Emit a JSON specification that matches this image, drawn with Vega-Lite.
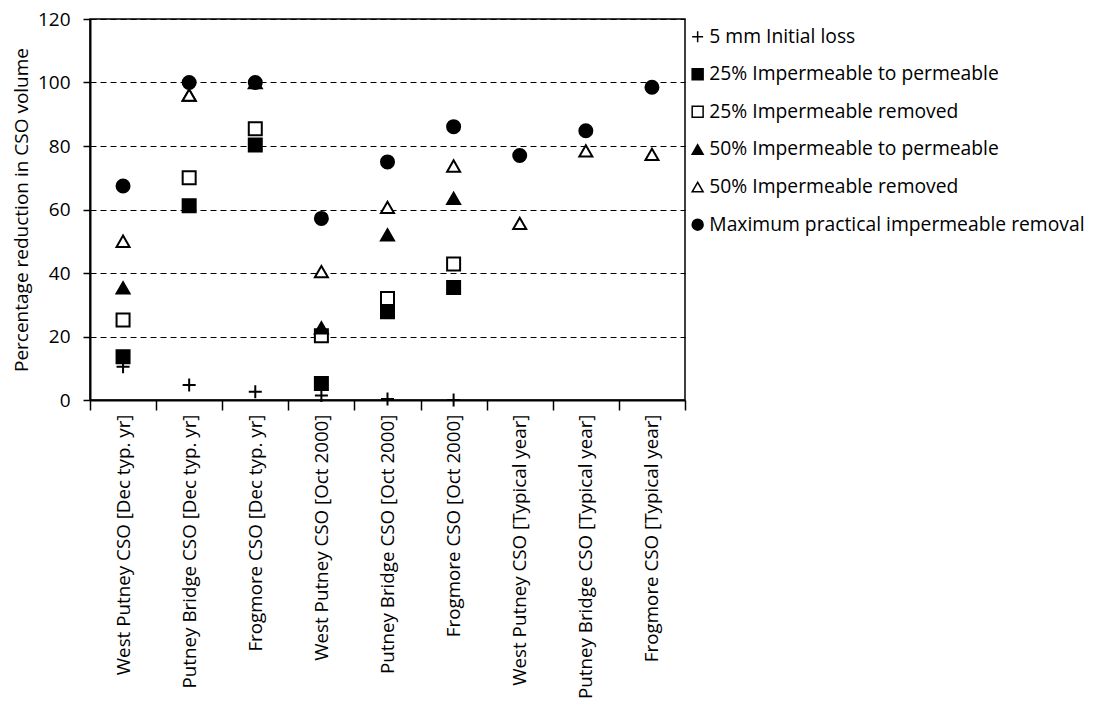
{
  "$schema": "https://vega.github.io/schema/vega-lite/v6.json",
  "width": 595,
  "height": 381,
  "autosize": {"type": "none"},
  "padding": {"left": 90, "top": 19, "right": 411, "bottom": 303},
  "background": "white",
  "config": {
    "view": {"stroke": "black", "strokeWidth": 1.5},
    "font": "Open Sans"
  },
  "data": {
    "values": [
      {"site": "West Putney CSO [Dec typ. yr]", "scenario": "5 mm Initial loss", "value": 10.5},
      {"site": "Putney Bridge CSO [Dec typ. yr]", "scenario": "5 mm Initial loss", "value": 4.7},
      {"site": "Frogmore CSO [Dec typ. yr]", "scenario": "5 mm Initial loss", "value": 2.6},
      {"site": "West Putney CSO [Oct 2000]", "scenario": "5 mm Initial loss", "value": 1.4},
      {"site": "Putney Bridge CSO [Oct 2000]", "scenario": "5 mm Initial loss", "value": 0.3},
      {"site": "Frogmore CSO [Oct 2000]", "scenario": "5 mm Initial loss", "value": 0},
      {"site": "West Putney CSO [Dec typ. yr]", "scenario": "25% Impermeable to permeable", "value": 13.6},
      {"site": "Putney Bridge CSO [Dec typ. yr]", "scenario": "25% Impermeable to permeable", "value": 61.2},
      {"site": "Frogmore CSO [Dec typ. yr]", "scenario": "25% Impermeable to permeable", "value": 80.3},
      {"site": "West Putney CSO [Oct 2000]", "scenario": "25% Impermeable to permeable", "value": 5.2},
      {"site": "Putney Bridge CSO [Oct 2000]", "scenario": "25% Impermeable to permeable", "value": 27.8},
      {"site": "Frogmore CSO [Oct 2000]", "scenario": "25% Impermeable to permeable", "value": 35.4},
      {"site": "West Putney CSO [Dec typ. yr]", "scenario": "25% Impermeable removed", "value": 25.2},
      {"site": "Putney Bridge CSO [Dec typ. yr]", "scenario": "25% Impermeable removed", "value": 70},
      {"site": "Frogmore CSO [Dec typ. yr]", "scenario": "25% Impermeable removed", "value": 85.4},
      {"site": "West Putney CSO [Oct 2000]", "scenario": "25% Impermeable removed", "value": 20.2},
      {"site": "Putney Bridge CSO [Oct 2000]", "scenario": "25% Impermeable removed", "value": 32},
      {"site": "Frogmore CSO [Oct 2000]", "scenario": "25% Impermeable removed", "value": 42.8},
      {"site": "West Putney CSO [Dec typ. yr]", "scenario": "50% Impermeable to permeable", "value": 35.3},
      {"site": "Putney Bridge CSO [Dec typ. yr]", "scenario": "50% Impermeable to permeable", "value": 96},
      {"site": "Frogmore CSO [Dec typ. yr]", "scenario": "50% Impermeable to permeable", "value": 100},
      {"site": "West Putney CSO [Oct 2000]", "scenario": "50% Impermeable to permeable", "value": 22.7},
      {"site": "Putney Bridge CSO [Oct 2000]", "scenario": "50% Impermeable to permeable", "value": 52},
      {"site": "Frogmore CSO [Oct 2000]", "scenario": "50% Impermeable to permeable", "value": 63.5},
      {"site": "West Putney CSO [Dec typ. yr]", "scenario": "50% Impermeable removed", "value": 50},
      {"site": "Putney Bridge CSO [Dec typ. yr]", "scenario": "50% Impermeable removed", "value": 96},
      {"site": "West Putney CSO [Oct 2000]", "scenario": "50% Impermeable removed", "value": 40.4},
      {"site": "Putney Bridge CSO [Oct 2000]", "scenario": "50% Impermeable removed", "value": 60.7},
      {"site": "Frogmore CSO [Oct 2000]", "scenario": "50% Impermeable removed", "value": 73.7},
      {"site": "West Putney CSO [Typical year]", "scenario": "50% Impermeable removed", "value": 55.6},
      {"site": "Putney Bridge CSO [Typical year]", "scenario": "50% Impermeable removed", "value": 78.5},
      {"site": "Frogmore CSO [Typical year]", "scenario": "50% Impermeable removed", "value": 77.4},
      {"site": "West Putney CSO [Dec typ. yr]", "scenario": "Maximum practical impermeable removal", "value": 67.4},
      {"site": "Putney Bridge CSO [Dec typ. yr]", "scenario": "Maximum practical impermeable removal", "value": 100},
      {"site": "Frogmore CSO [Dec typ. yr]", "scenario": "Maximum practical impermeable removal", "value": 100},
      {"site": "West Putney CSO [Oct 2000]", "scenario": "Maximum practical impermeable removal", "value": 57.2},
      {"site": "Putney Bridge CSO [Oct 2000]", "scenario": "Maximum practical impermeable removal", "value": 75},
      {"site": "Frogmore CSO [Oct 2000]", "scenario": "Maximum practical impermeable removal", "value": 86.1},
      {"site": "West Putney CSO [Typical year]", "scenario": "Maximum practical impermeable removal", "value": 77},
      {"site": "Putney Bridge CSO [Typical year]", "scenario": "Maximum practical impermeable removal", "value": 84.8},
      {"site": "Frogmore CSO [Typical year]", "scenario": "Maximum practical impermeable removal", "value": 98.5}
    ]
  },
  "mark": {"type": "point", "filled": false, "stroke": "black", "strokeWidth": 2, "size": 169, "opacity": 1},
  "encoding": {
    "x": {
      "field": "site",
      "type": "nominal",
      "sort": null,
      "scale": {"paddingInner": 0, "paddingOuter": 0},
      "axis": {
        "title": null,
        "tickBand": "extent",
        "labelAngle": -90,
        "labelFontSize": 18.8,
        "labelColor": "black",
        "labelPadding": 4,
        "labelLimit": 400,
        "tickSize": 10,
        "tickColor": "black",
        "tickWidth": 1.5,
        "domainColor": "black",
        "domainWidth": 2
      }
    },
    "y": {
      "field": "value",
      "type": "quantitative",
      "scale": {"domain": [0, 120], "nice": false},
      "axis": {
        "title": "Percentage reduction in CSO volume",
        "titleFontSize": 19,
        "titleFontWeight": "normal",
        "titleColor": "black",
        "titlePadding": 6,
        "values": [0, 20, 40, 60, 80, 100, 120],
        "labelFontSize": 19,
        "labelColor": "black",
        "labelPadding": 13,
        "tickSize": 7,
        "tickColor": "black",
        "tickWidth": 1.5,
        "domainColor": "black",
        "domainWidth": 2,
        "grid": true,
        "gridColor": "black",
        "gridDash": [6, 4],
        "gridWidth": 1,
        "gridOpacity": 1
      }
    },
    "shape": {
      "field": "scenario",
      "type": "nominal",
      "scale": {
        "domain": ["5 mm Initial loss", "25% Impermeable to permeable", "25% Impermeable removed", "50% Impermeable to permeable", "50% Impermeable removed", "Maximum practical impermeable removal"],
        "range": ["M-1,0H1M0,-1V1", "square", "square", "triangle-up", "triangle-up", "circle"]
      },
      "legend": {
        "title": null,
        "orient": "none",
        "legendX": 598,
        "legendY": 8,
        "labelFontSize": 19.3,
        "labelColor": "black",
        "labelLimit": 500,
        "rowPadding": 17.6,
        "symbolSize": 120,
        "labelOffset": 2,
        "encode": {"symbols": {"update": {"stroke": {"value": "black"}, "strokeWidth": {"value": 1.2}}}}
      }
    },
    "fill": {
      "field": "scenario",
      "type": "nominal",
      "scale": {
        "domain": ["5 mm Initial loss", "25% Impermeable to permeable", "25% Impermeable removed", "50% Impermeable to permeable", "50% Impermeable removed", "Maximum practical impermeable removal"],
        "range": ["black", "black", "white", "black", "white", "black"]
      },
      "legend": {
        "title": null,
        "orient": "none",
        "legendX": 598,
        "legendY": 8,
        "labelFontSize": 19.3,
        "labelColor": "black",
        "labelLimit": 500,
        "rowPadding": 17.6,
        "symbolSize": 120,
        "labelOffset": 2,
        "encode": {"symbols": {"update": {"stroke": {"value": "black"}, "strokeWidth": {"value": 1.2}}}}
      }
    }
  }
}
